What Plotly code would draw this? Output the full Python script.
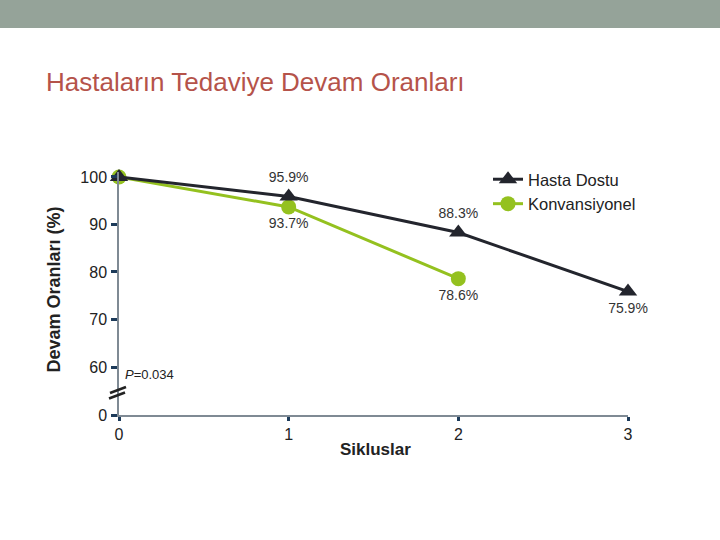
import plotly.graph_objects as go

cycles = [0, 1, 2, 3]
hasta_dostu = [100, 95.9, 88.3, 75.9]
konv_cycles = [0, 1, 2]
konvansiyonel = [100, 93.7, 78.6]
hd_labels = ["", "95.9%", "88.3%", "75.9%"]
hd_pos = ["top center", "top center", "top center", "bottom center"]
kv_labels = ["", "93.7%", "78.6%"]
kv_pos = ["bottom center", "bottom center", "bottom center"]
y_ticks = [60, 70, 80, 90, 100]
y_break_ticks = [0]
x_ticks = [0, 1, 2, 3]

DARK = "#23252d"
GREEN = "#94c11f"
AXIS = "#7f8a94"
TICK = "#1d3b5a"
FONT = "Liberation Sans, Arial, sans-serif"

fig = go.Figure()
fig.add_trace(go.Scatter(
    x=konv_cycles, y=konvansiyonel, name="Konvansiyonel", mode="lines+markers+text",
    line=dict(color=GREEN, width=3), marker=dict(symbol="circle", size=15, color=GREEN),
    text=kv_labels, textposition=kv_pos, textfont=dict(size=14, color="#333333", family=FONT),
    cliponaxis=False, legendrank=2))
fig.add_trace(go.Scatter(
    x=cycles, y=hasta_dostu, name="Hasta Dostu", mode="lines+markers+text",
    line=dict(color=DARK, width=3), marker=dict(symbol="triangle-up", size=16, color=DARK),
    text=hd_labels, textposition=hd_pos, textfont=dict(size=14, color="#333333", family=FONT),
    cliponaxis=False, legendrank=1))
# empty trace so the lower (broken) axis segment forms a subplot
fig.add_trace(go.Scatter(x=[], y=[], xaxis="x", yaxis="y2", showlegend=False, hoverinfo="skip"))

W, H = 720, 540
L, R, T, B = 119, 92, 172, 125
ph = H - T - B
pw = W - L - R

def py(p):
    return (H - B - p) / ph

def px(p):
    return (p - L) / pw

split = py(385)
tickstyle = dict(ticks="outside", ticklen=6, tickwidth=3, tickcolor=TICK,
                 tickfont=dict(size=16, color="#222222"), ticklabelstandoff=1)

fig.update_layout(
    width=W, height=H, margin=dict(l=L, r=R, t=T, b=B),
    paper_bgcolor="white", plot_bgcolor="white",
    font=dict(family=FONT, color="#222222", size=16),
    showlegend=True,
    legend=dict(x=px(488), y=py(162), xanchor="left", yanchor="top",
                font=dict(size=16.5, color="#222222"), bgcolor="rgba(0,0,0,0)",
                tracegroupgap=0),
    xaxis=dict(range=[0, 3], tickvals=x_ticks, showgrid=False, zeroline=False,
               showline=True, linecolor=AXIS, linewidth=1.5,
               ticks="outside", ticklen=4, tickwidth=3, tickcolor=TICK,
               tickfont=dict(size=16, color="#222222"), anchor="y2"),
    yaxis=dict(domain=[split, 1], range=[56.21, 101.05], tickvals=y_ticks,
               showgrid=False, zeroline=False, showline=True, linecolor=AXIS, linewidth=1.5,
               anchor="x", **tickstyle),
    yaxis2=dict(domain=[0, split], range=[0, 10], tickvals=y_break_ticks,
                showgrid=False, zeroline=False, showline=True, linecolor=AXIS, linewidth=1.5,
                anchor="x", **tickstyle),
)

fig.add_annotation(text="Hastaların Tedaviye Devam Oranları", xref="paper", yref="paper",
                   x=px(44), y=py(82), xanchor="left", yanchor="middle", showarrow=False,
                   font=dict(size=26, color="#b5534a"))
fig.add_annotation(text="<b>Devam Oranları (%)</b>", xref="paper", yref="paper",
                   x=px(53.5), y=py(290), textangle=-90, showarrow=False,
                   xanchor="center", yanchor="middle", font=dict(size=18, color="#222222"))
fig.add_annotation(text="<b>Sikluslar</b>", xref="paper", yref="paper",
                   x=px(375), y=py(449), showarrow=False, xanchor="center", yanchor="middle",
                   font=dict(size=17, color="#222222"))
fig.add_annotation(text="<i>P</i>=0.034", xref="x", yref="y", x=0, y=60,
                   xanchor="left", yanchor="middle", xshift=4, yshift=-7, showarrow=False,
                   font=dict(size=13, color="#222222"))

fig.add_shape(type="rect", xref="paper", yref="paper", x0=px(-5), x1=px(725),
              y0=py(28), y1=py(-5), fillcolor="#95a399", line=dict(width=0), layer="below")
for (a, b) in [((110, 393), (126, 387)), ((109, 398.5), (125, 392.5))]:
    fig.add_shape(type="line", xref="paper", yref="paper", x0=px(a[0]), y0=py(a[1]),
                  x1=px(b[0]), y1=py(b[1]), line=dict(color="#222222", width=2.5))

fig.write_html("out.html", config={"displayModeBar": False},
               post_script="document.body.style.margin='0';")
